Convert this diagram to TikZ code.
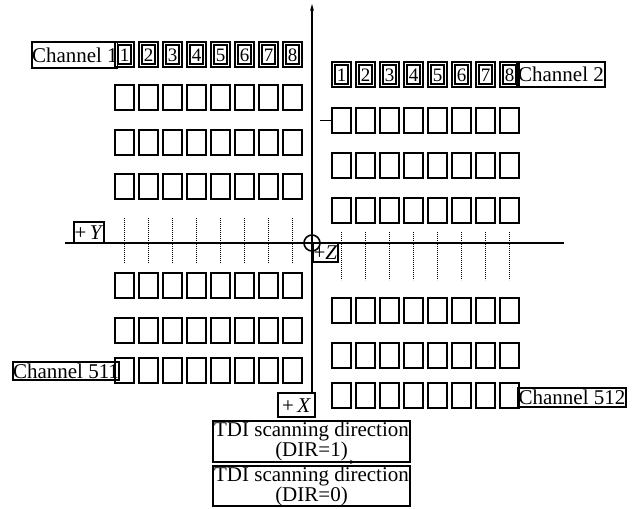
\documentclass[tikz,border=0pt]{standalone}
\usepackage{fontspec}
\setmainfont{Liberation Serif}
\usetikzlibrary{arrows.meta}
\begin{document}
\begin{tikzpicture}[x=1pt,y=-1pt,line join=miter,
  every node/.style={font=\fontsize{21}{20}\selectfont},
  cell/.style={draw,line width=1.9pt,minimum width=19pt,minimum height=25pt,inner sep=0pt,outer sep=0pt,anchor=north west},
  inbox/.style={draw,line width=1.2pt,minimum width=13pt,minimum height=19pt,inner sep=0pt,text height=13pt,text depth=0pt,font=\fontsize{19}{19}\selectfont},
  tag/.style={draw,line width=1.3pt,inner sep=0pt,outer sep=0pt,anchor=north west,text height=14pt,text depth=0pt},
  axisline/.style={line width=1.6pt},
  griddash/.style={line width=0.9pt,dash pattern=on 1.2pt off 0.8pt}]
\useasboundingbox (0,0) rectangle (635,509);
% axes
\coordinate (O) at (312,243);
\coordinate (ytop) at (312,4);
\coordinate (hl) at (65,243);
\coordinate (hr) at (564,243);
\node[tag,minimum width=37pt,minimum height=24pt] (X) at (278,393) {+\,\textit{X}};
\draw[axisline,-{Stealth[length=7pt,width=4pt]}] (O |- X.north) -- (ytop);
\draw[axisline] (hl) -- (hr);
\node[circle,draw,line width=1.6pt,minimum size=16pt,inner sep=0pt] (Oc) at (O) {};
\fill (O) circle (1.9pt);
\node[tag,minimum width=30pt,minimum height=21pt] (Y) at (74,222) {+\,\textit{Y}};
\node[tag,minimum width=25pt,minimum height=19pt] (Z) at (313,243) {+\textit{Z}};
% left grid
\foreach \c in {1,...,8}{
  \node[cell] (L1-\c) at ({115+24*(\c-1)},42) {};
  \node[inbox] (Ln\c) at (L1-\c.center) {\c};
}
\foreach \r/\y in {2/85,3/130,4/174,5/273,6/318,7/358}{
  \foreach \c in {1,...,8}{
    \node[cell] (L\r-\c) at ({115+24*(\c-1)},\y) {};
  }
}
\foreach \c in {1,...,8}{
  \draw[griddash] ({124.5+24*(\c-1)},218) -- ({124.5+24*(\c-1)},263);
}
% right grid
\foreach \c in {1,...,8}{
  \node[cell] (R1-\c) at ({332+24*(\c-1)},62) {};
  \node[inbox] (Rn\c) at (R1-\c.center) {\c};
}
\foreach \r/\y in {2/108,3/153,4/198,5/298,6/343,7/383}{
  \foreach \c in {1,...,8}{
    \node[cell] (R\r-\c) at ({332+24*(\c-1)},\y) {};
  }
}
\foreach \c in {1,...,8}{
  \draw[griddash] ({341.5+24*(\c-1)},232) -- ({341.5+24*(\c-1)},280);
}
\coordinate (tk) at ([xshift=-12pt]R2-1.west);
\draw[line width=1.3pt] (tk) -- (R2-1.west);
% channel labels
\node[tag,minimum width=82pt,minimum height=26pt] (ch1) at (32,42) {Channel 1};
\node[tag,minimum width=88pt,minimum height=25pt] (ch2) at (517,62) {Channel 2};
\node[tag,minimum width=106pt,minimum height=18pt] (ch511) at (13,362) {Channel 511};
\node[tag,minimum width=108pt,minimum height=19pt] (ch512) at (518,388) {Channel 512};
% TDI boxes
\node[draw,line width=1.3pt,inner sep=0pt,outer sep=0pt,anchor=north west,minimum width=197pt,minimum height=41pt,align=center] (tdi1) at (213,421) {TDI scanning direction\\(DIR=1)};
\node[draw,line width=1.3pt,inner sep=0pt,outer sep=0pt,anchor=north west,minimum width=197pt,minimum height=40pt,align=center] (tdi2) at (213,466) {TDI scanning direction\\(DIR=0)};
\coordinate (a1) at (338,462);
\coordinate (a2) at (355,462);
\draw[line width=0.8pt,-{Stealth[length=5pt,width=4pt]}] (a1) -- (a2);
\end{tikzpicture}
\end{document}
